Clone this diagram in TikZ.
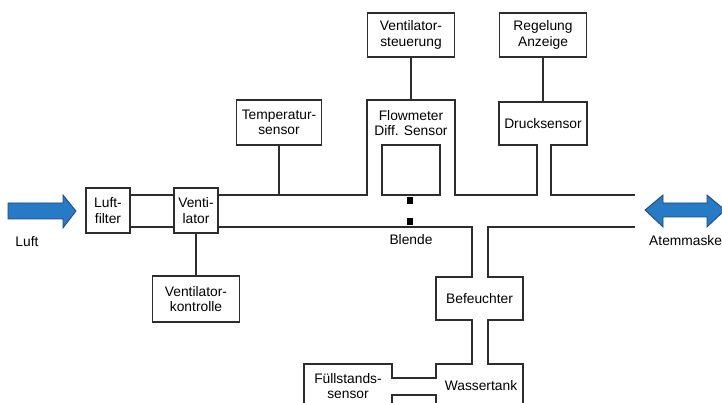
\documentclass[tikz,border=0pt]{standalone}
\usepackage{fontspec}
\setmainfont{Liberation Sans}
\usepackage{tikz}
\usetikzlibrary{positioning,calc}
\definecolor{pipeblue}{RGB}{38,122,198}
\definecolor{pipedark}{RGB}{30,72,120}
\definecolor{wall}{RGB}{45,45,45}

\begin{document}
\begin{tikzpicture}[x=1pt,y=-1pt,font=\fontsize{13.8}{15.5}\selectfont,
  box/.style={draw=wall,line width=1.1pt,minimum width=87pt,minimum height=44pt,align=center,inner sep=0pt},
  sbox/.style={box,minimum width=44pt,minimum height=45pt},
  wand/.style={draw=wall,line width=1.1pt},
  lbl/.style={align=center,inner sep=0pt},
  blau/.style={fill=pipeblue,draw=pipedark,line width=0.8pt}]
\useasboundingbox (0,0) rectangle (722,403);
% Rohrwaende
\coordinate (wo) at (0,195);
\coordinate (wu) at (0,227);
% Kaesten
\node[sbox](filt) at(108,210.5){Luft-\\filter};
\node[sbox](vent) at(196,210.5){Venti-\\lator};
\node[box,minimum height=46pt](kontr) at(196,299){Ventilator-\\kontrolle};
\node[box,minimum width=85pt,minimum height=45pt](temp) at(279,122.5){Temperatur-\\sensor};
\node[box](steu) at(411,35){Ventilator-\\steuerung};
\node[box](regel) at(543,35){Regelung\\Anzeige};
\node[lbl](flow) at(411,123){Flowmeter\\Diff. Sensor};
\node[lbl](druck) at(543,124){Drucksensor};
\node[lbl](bef) at(479.5,298.5){Befeuchter};
\node[lbl](tank) at(481,386){Wassertank};
\node[lbl](fuell) at(348,386){F\"ullstands-\\sensor};
\node[lbl](blende) at(411,240){Blende};
\node[lbl](luft) at(27,242){Luft};
\node[lbl,anchor=west](maske) at(649,241){Atemmaske};
% Verbindungen
\draw[wand](filt.east|-wo)--(vent.west|-wo);
\draw[wand](filt.east|-wu)--(vent.west|-wu);
\draw[wand](vent.south)--(vent.south|-kontr.north);
\draw[wand](temp.south)--(temp.south|-wo);
\draw[wand](steu.south)--(steu.south|-0,100);
\draw[wand](regel.south)--(regel.south|-0,102);
% obere Wand mit Flowmeter und Drucksensor
\draw[wand](vent.east|-wo)--(367,195)--(367,100)--(455,100)--(455,195)--(537,195)--(537,145)
  --(499,145)--(499,102)--(587,102)--(587,145)--(551,145)--(551,195)--(635,195);
\draw[wand](382,145)rectangle(440,195);
% untere Wand mit Befeuchter, Wassertank, Fuellstandssensor
\draw[wand](vent.east|-wu)--(472,227)--(472,277)--(436,277)--(436,320)--(472,320)--(472,364)
  --(436,364)--(436,378)--(392,378)--(392,364)--(304,364)--(304,410);
\draw[wand](392,410)--(392,395)--(436,395)--(436,410);
\draw[wand](635,227)--(488,227)--(488,277)--(523,277)--(523,320)--(488,320)--(488,364)
  --(523,364)--(523,410);
% Blende
\fill[black](407,197)rectangle(413,204);
\fill[black](407,218)rectangle(413,225);
% Pfeile
\draw[blau](8,203)--(63,203)--(63,195)--(76,211)--(63,228)--(63,219)--(8,219)--cycle;
\draw[blau](645,210)--(663,195)--(663,203)--(707,203)--(707,195)--(725,210)--(707,227)
  --(707,217)--(663,217)--(663,227)--cycle;
\end{tikzpicture}
\end{document}
